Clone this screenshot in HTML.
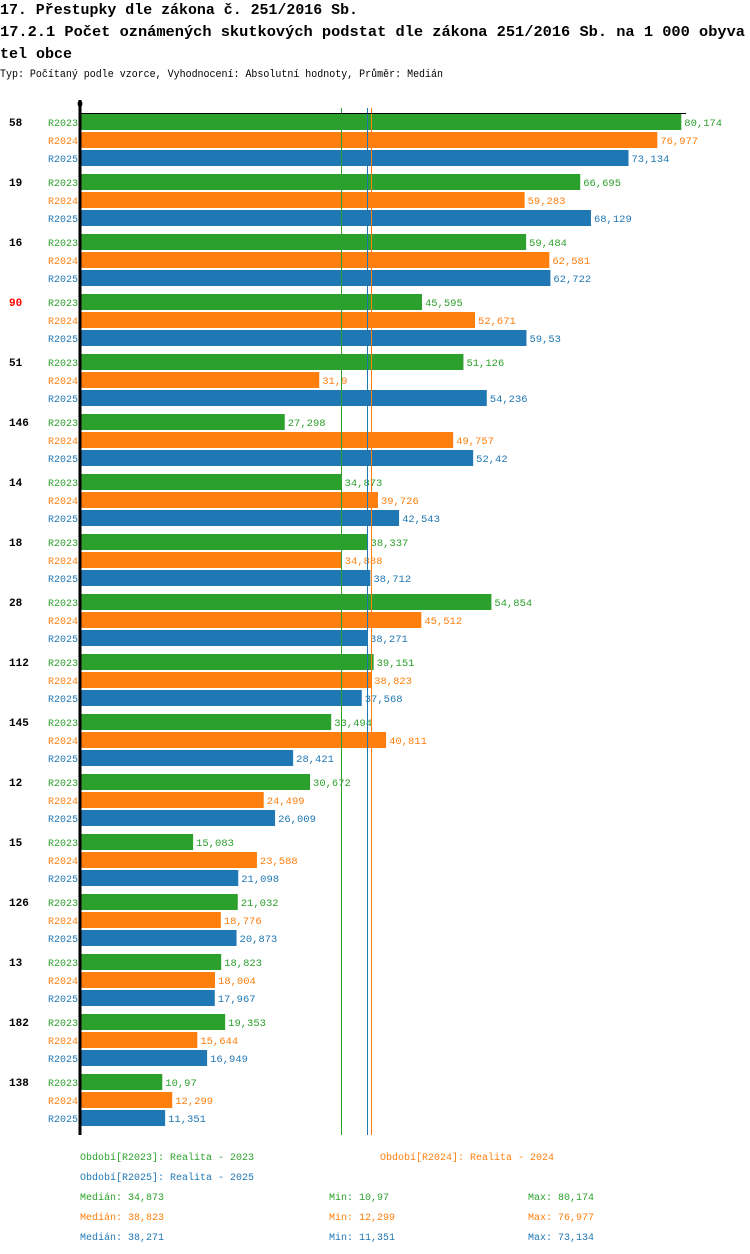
<!DOCTYPE html>
<html><head><meta charset="utf-8"><style>
body{margin:0;background:#fff;width:750px;height:1254px;overflow:hidden}
svg{display:block;font-family:"Liberation Mono","DejaVu Sans Mono",monospace}
</style></head><body>
<svg id="c" width="750" height="1254" xmlns="http://www.w3.org/2000/svg">
<text x="0" y="14" font-size="15" font-weight="bold" textLength="358" lengthAdjust="spacingAndGlyphs">17. Přestupky dle zákona č. 251/2016 Sb.</text>
<text x="0" y="36" font-size="15" font-weight="bold" textLength="745" lengthAdjust="spacingAndGlyphs">17.2.1 Počet oznámených skutkových podstat dle zákona 251/2016 Sb. na 1 000 obyva</text>
<text x="0" y="58" font-size="15" font-weight="bold" textLength="72" lengthAdjust="spacingAndGlyphs">tel obce</text>
<text x="0" y="77" font-size="11" textLength="443" lengthAdjust="spacingAndGlyphs">Typ: Počítaný podle vzorce, Vyhodnocení: Absolutní hodnoty, Průměr: Medián</text>
<text x="77" y="107" font-size="10">0</text>
<g id="bars"></g>
<g id="legend"></g>
</svg>
<script>
const categories=["58","19","16","90","51","146","14","18","28","112","145","12","15","126","13","182","138"];
const r2023=[80.174,66.695,59.484,45.595,51.126,27.298,34.873,38.337,54.854,39.151,33.494,30.672,15.083,21.032,18.823,19.353,10.97];
const r2024=[76.977,59.283,62.581,52.671,31.9,49.757,39.726,34.888,45.512,38.823,40.811,24.499,23.588,18.776,18.004,15.644,12.299];
const r2025=[73.134,68.129,62.722,59.53,54.236,52.42,42.543,38.712,38.271,37.568,28.421,26.009,21.098,20.873,17.967,16.949,11.351];
const seriesNames=["R2023","R2024","R2025"];
const colors=["#2ca02c","#ff7f0e","#1f77b4"];
const NS="http://www.w3.org/2000/svg";
const svg=document.getElementById('c');
const g=document.getElementById('bars');
const X0=80,K=7.5,Y0=114,GH=60;
const x=v=>X0+v*K;
const y=(i,s)=>Y0+i*GH+s*18;
const fmt=v=>String(v).replace('.',',');
function el(t,a,p){const e=document.createElementNS(NS,t);for(const k in a)e.setAttribute(k,a[k]);(p||g).appendChild(e);return e;}
const series=[r2023,r2024,r2025];
const medians=series.map(a=>{const s=[...a].sort((p,q)=>p-q);return s[(s.length-1)/2];});
const mins=series.map(a=>Math.min(...a)), maxs=series.map(a=>Math.max(...a));
const yEnd=Y0+categories.length*GH+1;
categories.forEach((c,i)=>{
  const t=el('text',{x:9,y:y(i,0)+12,'font-size':11,'font-weight':'bold',fill:c==="90"?"#ff0000":"#000"});
  t.textContent=c;
  
  
  series.forEach((arr,s)=>{
    const l=el('text',{x:78,y:y(i,s)+12,'font-size':10,fill:colors[s],'text-anchor':'end'});
    l.textContent=seriesNames[s];
    
    
    const r=el('rect',{x:X0,y:y(i,s),width:x(arr[i])-X0,height:16,fill:colors[s]});
    
    
    const v=el('text',{x:x(arr[i])+3,y:y(i,s)+12,'font-size':10.5,fill:colors[s]});
    v.textContent=fmt(arr[i]);
    
    
  });
});
medians.forEach((m,s)=>{
  const px=Math.floor(x(m))+0.5;
  const ln=el('line',{x1:px,x2:px,y1:108,y2:yEnd,stroke:colors[s],'stroke-width':1,'shape-rendering':'crispEdges'});
  
  
});
const ax=el('line',{x1:80,x2:80,y1:100,y2:yEnd,stroke:'#000','stroke-width':3});


const tk=el('line',{x1:80,x2:686,y1:113.5,y2:113.5,stroke:'#000','stroke-width':1});


const lg=document.getElementById('legend');
function lt(xx,yy,txt,col){const t=el('text',{x:xx,y:yy,'font-size':10,fill:col},lg);t.textContent=txt;return t;}
let a;
a=lt(80,1160,"Období[R2023]: Realita - 2023",colors[0]);


a=lt(380,1160,"Období[R2024]: Realita - 2024",colors[1]);


a=lt(80,1180,"Období[R2025]: Realita - 2025",colors[2]);


series.forEach((arr,s)=>{
  const yy=1200+s*20;
  const m=lt(80,yy,"Medián: "+fmt(medians[s]),colors[s]);
  
  
  const n=lt(329,yy,"Min: "+fmt(mins[s]),colors[s]);
  
  
  const xx=lt(528,yy,"Max: "+fmt(maxs[s]),colors[s]);
  
  
});
</script>
</body></html>
